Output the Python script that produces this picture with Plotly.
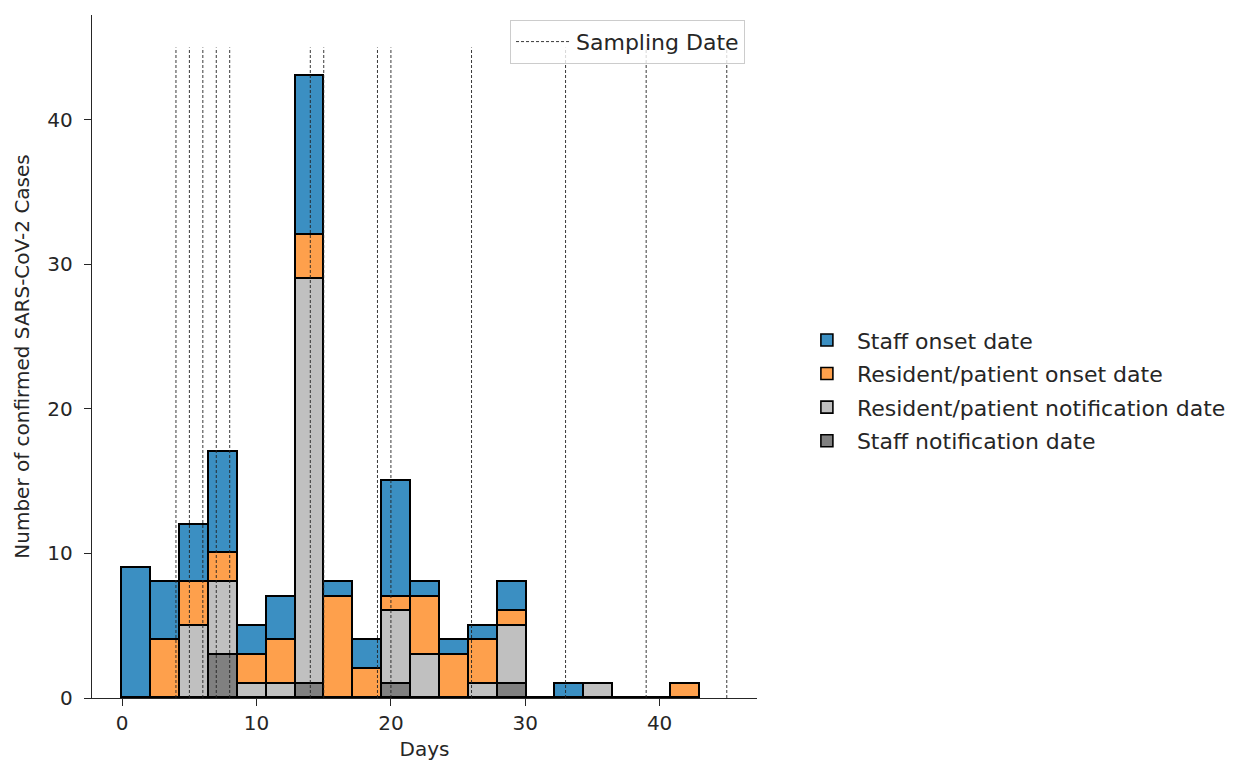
import plotly.graph_objects as go

# ---- data ----
bin_start = 0.0
bin_width = 2.15
staff_onset = [9, 4, 4, 7, 2, 3, 11, 1, 2, 8, 1, 1, 1, 2, 0, 1, 0, 0, 0, 0]
resident_onset = [0, 4, 3, 2, 2, 3, 3, 7, 2, 1, 4, 3, 3, 1, 0, 0, 0, 0, 0, 1]
resident_notif = [0, 0, 5, 5, 1, 1, 28, 0, 0, 5, 3, 0, 1, 4, 0, 0, 1, 0, 0, 0]
staff_notif = [0, 0, 0, 3, 0, 0, 1, 0, 0, 1, 0, 0, 0, 1, 0, 0, 0, 0, 0, 0]
sampling_days = [4, 5, 6, 7, 8, 14, 15, 19, 20, 26, 33, 39, 45]
sampling_top = 45

# (name, values, colour, legend rank) -- listed bottom of stack first
series = [
    ("Staff notification date", staff_notif, "#808080", 4),
    ("Resident/patient notification date", resident_notif, "#c0c0c0", 3),
    ("Resident/patient onset date", resident_onset, "#fea04c", 2),
    ("Staff onset date", staff_onset, "#3b8fc2", 1),
]

n = len(staff_onset)
centers = [bin_start + (i + 0.5) * bin_width for i in range(n)]

FONT = "DejaVu Sans"
TXT = "#262626"
AX = 20
LEG = 22

fig = go.Figure()
for name, vals, col, rank in series:
    fig.add_trace(go.Bar(
        x=centers, y=vals, width=bin_width, name=name,
        marker=dict(color=col, line=dict(color="black", width=1.6)),
        legendgroup=name, legendrank=rank, legend="legend",
    ))

vx, vy = [], []
for d in sampling_days:
    vx += [d, d, None]
    vy += [0, sampling_top, None]
fig.add_trace(go.Scatter(
    x=vx, y=vy, mode="lines", name="Sampling Date",
    line=dict(color="#222222", width=0.9, dash="3px,2px"),
    legend="legend2",
))

fig.update_layout(
    width=1217, height=753,
    barmode="stack", bargap=0,
    plot_bgcolor="white", paper_bgcolor="white",
    margin=dict(l=84, r=468, t=7, b=63, autoexpand=False),
    font=dict(family=FONT, size=AX, color=TXT),
    legend=dict(
        x=1.06, y=0.450, xanchor="left", yanchor="middle",
        traceorder="grouped", tracegroupgap=2, itemwidth=50,
        font=dict(size=LEG, color=TXT), bgcolor="rgba(0,0,0,0)",
    ),
    legend2=dict(
        x=0.982, y=0.993, xanchor="right", yanchor="top",
        itemwidth=55,
        font=dict(size=LEG, color=TXT),
        bgcolor="rgba(255,255,255,0.8)", bordercolor="#cccccc", borderwidth=1,
    ),
    xaxis=dict(
        range=[-2.25, 47.25], tickvals=[0, 10, 20, 30, 40],
        ticks="outside", ticklen=7, tickwidth=1.3, tickcolor=TXT,
        ticklabelstandoff=0,
        showline=True, linecolor=TXT, linewidth=1.4,
        showgrid=False, zeroline=False,
        title=dict(text="Days", standoff=24, font=dict(size=AX, color=TXT)),
        tickfont=dict(size=AX, color=TXT),
    ),
    yaxis=dict(
        range=[0, 47.25], tickvals=[0, 10, 20, 30, 40],
        ticks="outside", ticklen=7, tickwidth=1.3, tickcolor=TXT,
        ticklabelstandoff=7,
        showline=True, linecolor=TXT, linewidth=1.4,
        showgrid=False, zeroline=False,
        title=dict(text="Number of confirmed SARS-CoV-2 Cases", standoff=12,
                   font=dict(size=AX, color=TXT)),
        tickfont=dict(size=AX, color=TXT),
    ),
)

fig.write_html("out.html")
